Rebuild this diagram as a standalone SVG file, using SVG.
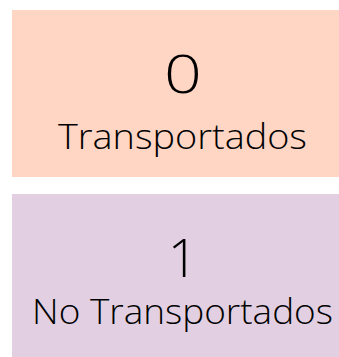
<svg xmlns="http://www.w3.org/2000/svg" width="339" height="357" viewBox="0 0 339 357">
<style>
.num{font-family:"Open Sans","Liberation Sans",sans-serif;font-size:53px;font-weight:300;fill:#000;text-anchor:middle}
.lbl{font-family:"Open Sans","Liberation Sans",sans-serif;font-size:34px;font-weight:300;fill:#000;text-anchor:middle}
</style>
<rect width="339" height="357" fill="#ffffff"/>
<g id="node0">
<rect x="12" y="10" width="327" height="167" fill="#FFD5C3"/>
<text class="num" transform="translate(183 93) scale(1.25 1)" x="0" y="0">0</text>
<text class="lbl" x="182.5" y="149" textLength="249" lengthAdjust="spacingAndGlyphs">Transportados</text>
</g>
<g id="node1">
<rect x="12" y="194" width="327" height="163" fill="#E2D0E2"/>
<text class="num" x="183" y="277">1</text>
<text class="lbl" x="182.5" y="324" textLength="301" lengthAdjust="spacingAndGlyphs">No Transportados</text>
</g>
<g id="connectors"/>
</svg>
